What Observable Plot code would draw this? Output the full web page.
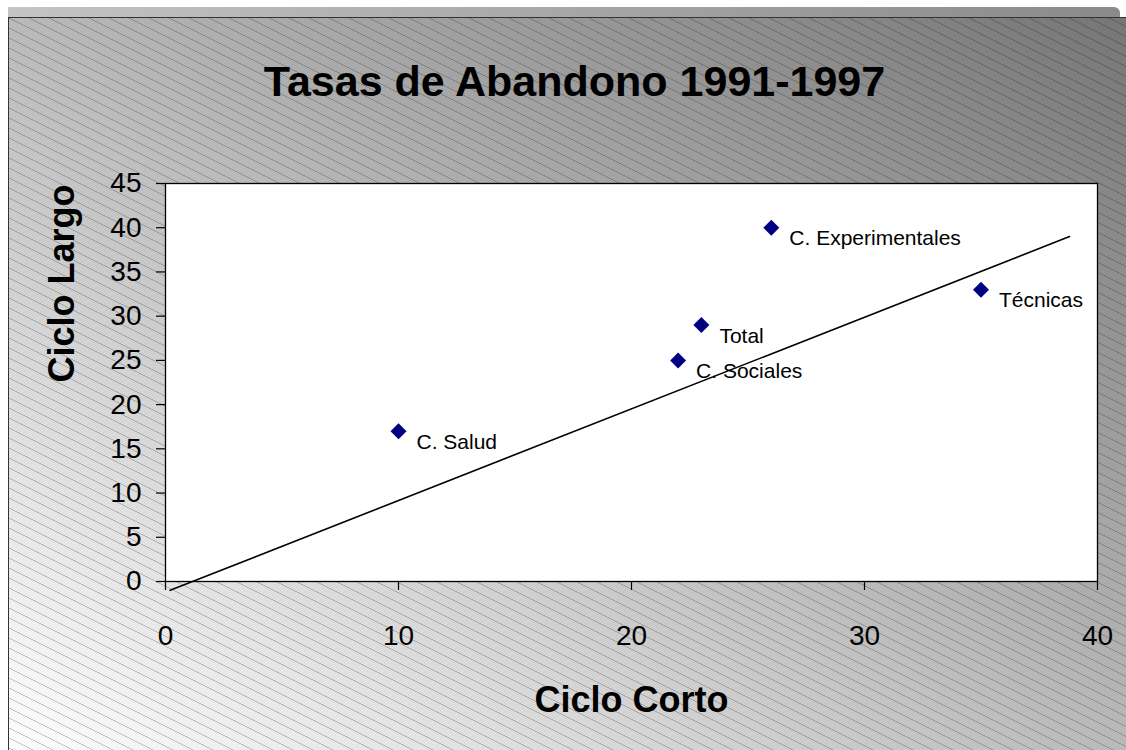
<!DOCTYPE html>
<html>
<head>
<meta charset="utf-8">
<script src="https://cdn.jsdelivr.net/npm/d3@7"></script>
<script src="https://cdn.jsdelivr.net/npm/@observablehq/plot@0.6"></script>
<style>
  html, body { margin: 0; padding: 0; background: #ffffff; }
  #wrap { position: relative; width: 1126px; height: 750px; overflow: hidden; font-family: "Liberation Sans", Arial, sans-serif; }
  #band { position: absolute; left: 8px; top: 7px; width: 1112px; height: 10px;
          background: linear-gradient(to right, #c4c4c4, #8a8a8a); border-top-right-radius: 6px; }
  #bg { position: absolute; left: 8px; top: 17px; width: 1118px; height: 733px;
        border-left: 1px solid #333; border-top: 1px solid #333; box-sizing: border-box;
        background: linear-gradient(to top right, #fdfdfd, #767676); }
  #hatch { position: absolute; left: 9px; top: 18px; width: 1117px; height: 732px; }
  #chart { position: absolute; left: 0; top: 0; }
</style>
</head>
<body>
<div id="wrap">
  <div id="band"></div>
  <div id="bg"></div>
  <div id="hatch"></div>
  <div id="chart"></div>
</div>
<script>
const title = "Tasas de Abandono 1991-1997";
const xLabel = "Ciclo Corto";
const yLabel = "Ciclo Largo";

const categories = ["C. Salud", "C. Sociales", "Total", "C. Experimentales", "Técnicas"];
const cicloCorto = [10, 22, 23, 26, 35];
const cicloLargo = [17, 25, 29, 40, 33];

const trendX = [0.2, 38.8];
const trendY = [-1.0, 39.0];

const xTicks = [0, 10, 20, 30, 40];
const yTicks = [0, 5, 10, 15, 20, 25, 30, 35, 40, 45];

// background hatch (decoration)
const tile = `<svg xmlns='http://www.w3.org/2000/svg' width='20' height='10'><path d='M0,0L20,10M0,-10L20,0M0,10L20,20' stroke='rgba(0,0,0,0.22)' stroke-width='1' shape-rendering='crispEdges' fill='none'/></svg>`;
document.getElementById("hatch").style.backgroundImage = `url("data:image/svg+xml,${encodeURIComponent(tile)}")`;

const points = categories.map((c, i) => ({name: c, x: cicloCorto[i], y: cicloLargo[i]}));
const trend = trendX.map((x, i) => ({x, y: trendY[i]}));

const chart = Plot.plot({
  width: 1126,
  height: 750,
  marginLeft: 165,
  marginRight: 29,
  marginTop: 183,
  marginBottom: 169,
  style: {background: "transparent", fontFamily: "'Liberation Sans', Arial, sans-serif", color: "black", overflow: "visible"},
  x: {domain: [0, 40]},
  y: {domain: [0, 45]},
  marks: [
    Plot.frame({fill: "white", stroke: "black", strokeWidth: 1.3}),
    Plot.axisY({ticks: yTicks, tickSize: 9, tickPadding: 15, fontSize: 28, label: null, stroke: "black", strokeWidth: 1.2}),
    Plot.axisX({ticks: xTicks, tickSize: 9, tickPadding: 35, fontSize: 28, label: null, stroke: "black", strokeWidth: 1.2}),
    Plot.text(points, {x: "x", y: "y", text: "name", textAnchor: "start", dx: 18, dy: 11, fontSize: 21, fill: "black"}),
    Plot.line(trend, {x: "x", y: "y", stroke: "black", strokeWidth: 1.6}),
    Plot.dot(points, {x: "x", y: "y", symbol: "diamond2", r: 7.2, fill: "#000080", stroke: "none"}),
    Plot.text([title], {frameAnchor: "top", lineAnchor: "middle", text: d => d, dx: -57, dy: -101, fontSize: 43, fontWeight: "bold", fill: "black"}),
    Plot.text([xLabel], {frameAnchor: "bottom", lineAnchor: "middle", text: d => d, dy: 119, fontSize: 36, fontWeight: "bold", fill: "black"}),
    Plot.text([yLabel], {frameAnchor: "left", lineAnchor: "middle", text: d => d, dx: -103, rotate: -90, fontSize: 36, fontWeight: "bold", fill: "black"})
  ]
});
document.getElementById("chart").appendChild(chart);
</script>
</body>
</html>
